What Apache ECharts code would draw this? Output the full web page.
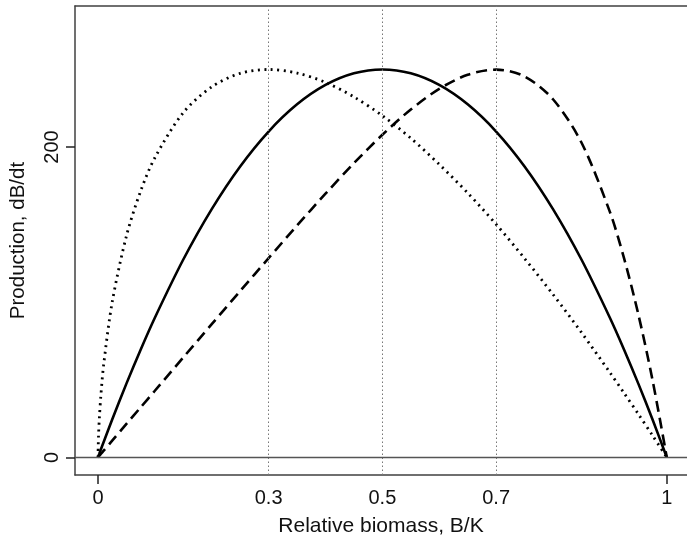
<!DOCTYPE html>
<html><head><meta charset="utf-8">
<script src="https://cdn.jsdelivr.net/npm/echarts@6/dist/echarts.min.js"></script>
<style>html,body{margin:0;padding:0;background:#fff}#c{width:687px;height:542px}</style>
</head><body><div id="c"></div>
<script>
const xValues = [0,0.001,0.0025,0.005,0.01,0.025,0.05,0.075,0.1,0.15,0.2,0.25,0.3,0.35,0.4,0.45,0.5,0.55,0.6,0.65,0.7,0.75,0.8,0.85,0.9,0.925,0.95,0.975,1];
const logistic = [0,1.0,2.5,5.0,9.9,24.4,47.5,69.4,90,127.5,160,187.5,210,227.5,240,247.5,250,247.5,240,227.5,210,187.5,160,127.5,90,69.4,47.5,24.4,0];
const skewLeft = [0,14.4,25.7,39.4,59.7,100.0,142.6,171.6,193.1,222.2,238.8,247.5,250,247.7,241.7,232.3,220.2,205.7,188.8,170.4,150.2,128.2,105.0,80.5,54.7,41.4,27.9,14.1,0];
const skewRight = [0,0.43,1.07,2.15,4.29,10.7,21.5,32.2,42.9,64.4,85.8,107.2,128.4,149.4,169.9,189.6,207.9,224.2,237.5,246.6,249.9,245.5,230.8,202.9,158.2,128.2,92.2,49.8,0];
const xTickLabels = [0,0.3,0.5,0.7,1];
const xTickMarks = [0,1];
const yTicks = [0,200];
const refLinesX = [0.3,0.5,0.7];

const pair = ys => xValues.map((x,i)=>[x,ys[i]]);
const font = '"Liberation Sans", Arial, sans-serif';
const frame = '#404040';
const chart = echarts.init(document.getElementById('c'), null, {renderer:'canvas'});
chart.setOption({
  animation:false,
  grid:{left:74, right:0, top:6, bottom:67, containLabel:false},
  xAxis:[{
    type:'value', min:-0.0404, max:1.0356,
    name:'Relative biomass, B/K', nameLocation:'middle', nameGap:41,
    nameTextStyle:{fontFamily:font, fontSize:21, color:'#111'},
    axisLine:{show:true, onZero:false, lineStyle:{color:frame, width:1.5}},
    axisTick:{show:true, inside:false, customValues:xTickMarks, length:9, lineStyle:{color:'#222', width:1.5}},
    axisLabel:{show:true, customValues:xTickLabels, margin:13, fontFamily:font, fontSize:20, color:'#111',
      formatter:v=>String(v)},
    splitLine:{show:false}
  },{
    type:'value', position:'top', min:-0.0404, max:1.0356,
    axisLine:{show:true, onZero:false, lineStyle:{color:frame, width:1.5}},
    axisTick:{show:false}, axisLabel:{show:false}, splitLine:{show:false}
  }],
  yAxis:{
    type:'value', min:-11.4, max:290.9,
    name:'Production, dB/dt', nameLocation:'middle', nameGap:46,
    nameTextStyle:{fontFamily:font, fontSize:20.5, color:'#111'},
    axisLine:{show:true, onZero:false, lineStyle:{color:frame, width:1.5}},
    axisTick:{show:true, inside:false, customValues:yTicks, length:9, lineStyle:{color:'#222', width:1.5}},
    axisLabel:{show:true, customValues:yTicks, rotate:90, margin:13, fontFamily:font, fontSize:20, color:'#111'},
    splitLine:{show:false}
  },
  series:[
    {type:'line', data:pair(logistic), showSymbol:false, smooth:0.3, z:3,
     lineStyle:{color:'#000', width:2.6, type:'solid'},
     markLine:{silent:true, symbol:'none', label:{show:false}, animation:false,
       data:[...refLinesX.map(v=>({xAxis:v, lineStyle:{color:'#777', width:1, type:[1.5,2.5]}})),
             {yAxis:0, lineStyle:{color:'#555', width:1.3, type:'solid'}}]}},
    {type:'line', data:pair(skewLeft), showSymbol:false, smooth:0.3, z:3,
     lineStyle:{color:'#000', width:2.8, type:[2,4.5]}},
    {type:'line', data:pair(skewRight), showSymbol:false, smooth:0.3, z:3,
     lineStyle:{color:'#000', width:2.6, type:[11,6]}}
  ]
});
</script></body></html>
